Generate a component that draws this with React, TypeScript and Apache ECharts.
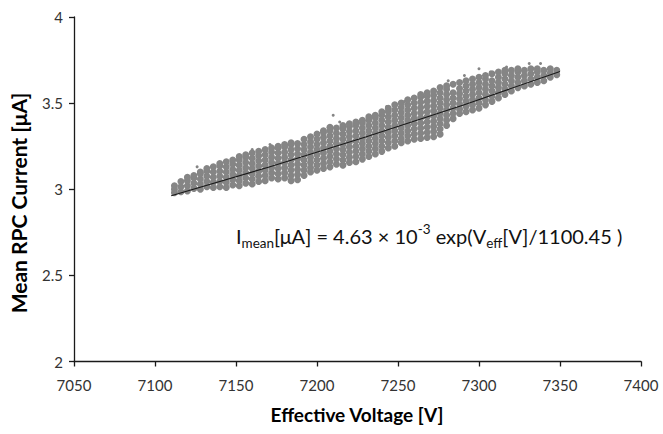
import React, { useEffect, useRef } from "react";
import * as echarts from "echarts";

// Effective voltage [V] of each column of measured points
const voltageColumns = [
  7112, 7116, 7120, 7124, 7128, 7132, 7136, 7140, 7144, 7148,
  7152, 7156, 7160, 7164, 7168, 7172, 7176, 7180, 7184, 7188,
  7192, 7196, 7200, 7204, 7208, 7212, 7216, 7220, 7224, 7228,
  7232, 7236, 7240, 7244, 7248, 7252, 7256, 7260, 7264, 7268,
  7272, 7276, 7280, 7284, 7288, 7292, 7296, 7300, 7304, 7308,
  7312, 7316, 7320, 7324, 7328, 7332, 7336, 7340, 7344, 7348,
];

// Mean RPC current [µA] of the measured points in each column
const currentColumns = [
  [2.98, 3.0, 3.02],
  [2.985, 3.015, 3.045],
  [2.99, 3.02, 3.05, 3.07],
  [3.005, 3.035, 3.065, 3.08],
  [3.0, 3.03, 3.06, 3.09, 3.1],
  [3.015, 3.045, 3.075, 3.105, 3.12],
  [3.01, 3.04, 3.07, 3.1, 3.13],
  [3.015, 3.045, 3.075, 3.105, 3.135, 3.15],
  [3.01, 3.04, 3.07, 3.1, 3.13, 3.16],
  [3.025, 3.055, 3.085, 3.115, 3.145, 3.17],
  [3.02, 3.05, 3.08, 3.11, 3.14, 3.17, 3.19],
  [3.035, 3.065, 3.095, 3.125, 3.155, 3.185, 3.2],
  [3.03, 3.06, 3.09, 3.12, 3.15, 3.18, 3.21],
  [3.045, 3.075, 3.105, 3.135, 3.165, 3.195, 3.22],
  [3.05, 3.08, 3.11, 3.14, 3.17, 3.2, 3.23],
  [3.065, 3.095, 3.125, 3.155, 3.185, 3.215, 3.24],
  [3.06, 3.09, 3.12, 3.15, 3.18, 3.21, 3.24, 3.25],
  [3.065, 3.095, 3.125, 3.155, 3.185, 3.215, 3.245, 3.26],
  [3.05, 3.08, 3.11, 3.14, 3.17, 3.2, 3.23, 3.26, 3.27],
  [3.055, 3.085, 3.115, 3.145, 3.175, 3.205, 3.235, 3.265],
  [3.08, 3.11, 3.14, 3.17, 3.2, 3.23, 3.26, 3.29],
  [3.1, 3.125, 3.155, 3.185, 3.215, 3.245, 3.275, 3.305],
  [3.11, 3.14, 3.17, 3.2, 3.23, 3.26, 3.29, 3.32],
  [3.12, 3.15, 3.18, 3.21, 3.24, 3.27, 3.3, 3.33, 3.34],
  [3.13, 3.16, 3.19, 3.22, 3.25, 3.28, 3.31, 3.34, 3.36],
  [3.145, 3.175, 3.205, 3.235, 3.265, 3.295, 3.325, 3.355],
  [3.14, 3.17, 3.2, 3.23, 3.26, 3.29, 3.32, 3.35, 3.37],
  [3.155, 3.185, 3.215, 3.245, 3.275, 3.305, 3.335, 3.365, 3.38],
  [3.16, 3.19, 3.22, 3.25, 3.28, 3.31, 3.34, 3.37, 3.39],
  [3.175, 3.205, 3.235, 3.265, 3.295, 3.325, 3.355, 3.385, 3.4],
  [3.19, 3.22, 3.25, 3.28, 3.31, 3.34, 3.37, 3.4, 3.42],
  [3.205, 3.235, 3.265, 3.295, 3.325, 3.355, 3.385, 3.415, 3.43],
  [3.22, 3.25, 3.28, 3.31, 3.34, 3.37, 3.4, 3.43, 3.45],
  [3.24, 3.27, 3.3, 3.33, 3.36, 3.39, 3.42, 3.45, 3.47],
  [3.25, 3.28, 3.31, 3.34, 3.37, 3.4, 3.43, 3.46, 3.49],
  [3.27, 3.295, 3.325, 3.355, 3.385, 3.415, 3.445, 3.475, 3.5],
  [3.28, 3.31, 3.34, 3.37, 3.4, 3.43, 3.46, 3.49, 3.52],
  [3.29, 3.32, 3.35, 3.38, 3.41, 3.44, 3.47, 3.5, 3.53],
  [3.295, 3.325, 3.355, 3.385, 3.415, 3.445, 3.475, 3.505, 3.535, 3.55],
  [3.3, 3.33, 3.36, 3.39, 3.42, 3.45, 3.48, 3.51, 3.54, 3.56],
  [3.305, 3.335, 3.365, 3.395, 3.425, 3.455, 3.485, 3.515, 3.545, 3.57],
  [3.32, 3.35, 3.38, 3.41, 3.44, 3.47, 3.5, 3.53, 3.56, 3.59],
  [3.37, 3.4, 3.43, 3.46, 3.49, 3.52, 3.55, 3.58, 3.6],
  [3.41, 3.44, 3.47, 3.5, 3.53, 3.56, 3.61],
  [3.44, 3.465, 3.495, 3.525, 3.555, 3.585, 3.62],
  [3.45, 3.48, 3.51, 3.54, 3.57, 3.6, 3.63],
  [3.46, 3.49, 3.52, 3.55, 3.58, 3.61, 3.64],
  [3.47, 3.5, 3.53, 3.56, 3.59, 3.62, 3.65],
  [3.49, 3.52, 3.55, 3.58, 3.61, 3.64, 3.66],
  [3.51, 3.54, 3.57, 3.6, 3.63, 3.67],
  [3.53, 3.56, 3.59, 3.62, 3.65, 3.68],
  [3.55, 3.58, 3.61, 3.64, 3.67, 3.69],
  [3.57, 3.6, 3.63, 3.66, 3.69],
  [3.59, 3.62, 3.65, 3.68, 3.7],
  [3.6, 3.63, 3.66, 3.69],
  [3.61, 3.64, 3.67, 3.7],
  [3.62, 3.65, 3.68, 3.7],
  [3.63, 3.66, 3.69],
  [3.65, 3.675, 3.7],
  [3.665, 3.69],
];

// Sparse points lying outside the main band
const outlierVoltage = [7126, 7160, 7171, 7210, 7214, 7243, 7254, 7281, 7291, 7300, 7307, 7317, 7331, 7338];
const outlierCurrent = [3.13, 3.23, 3.26, 3.43, 3.39, 3.48, 3.51, 3.63, 3.66, 3.7, 3.68, 3.71, 3.73, 3.73];

// Exponential fit curve
const fitVoltage = [7110, 7170, 7230, 7290, 7350];
const fitCurrent = [2.962, 3.128, 3.303, 3.488, 3.684];

const xAxisTitle = "Effective Voltage [V]";
const yAxisTitle = "Mean RPC Current [\u03bcA]";

const FONT = "Lato, 'Open Sans', sans-serif";

export default function App() {
  const ref = useRef<HTMLDivElement>(null);

  useEffect(() => {
    if (!ref.current) return;
    const chart = echarts.init(ref.current, undefined, { renderer: "svg" });

    const bandData: number[][] = [];
    voltageColumns.forEach((v, i) => {
      currentColumns[i].forEach((c) => bandData.push([v, c]));
    });
    const outlierData = outlierVoltage.map((v, i) => [v, outlierCurrent[i]]);
    const fitData = fitVoltage.map((v, i) => [v, fitCurrent[i]]);

    chart.setOption({
      animation: false,
      backgroundColor: "#ffffff",
      grid: { left: 74, right: 22, top: 17, bottom: 72.5, containLabel: false, outerBoundsMode: "none" },
      xAxis: {
        type: "value",
        min: 7050,
        max: 7400,
        interval: 50,
        splitLine: { show: false },
        axisLine: { show: true, onZero: false, lineStyle: { color: "#1a1a1a", width: 1.3 } },
        axisTick: { show: true, inside: false, length: 5, lineStyle: { color: "#1a1a1a", width: 1.3 } },
        axisLabel: {
          color: "#333",
          fontFamily: FONT,
          fontSize: 15,
          margin: 16,
          formatter: (v: number) => String(v),
        },
      },
      yAxis: {
        type: "value",
        min: 2,
        max: 4,
        interval: 0.5,
        splitLine: { show: false },
        axisLine: { show: true, onZero: false, lineStyle: { color: "#1a1a1a", width: 1.3 } },
        axisTick: { show: true, inside: false, length: 5, lineStyle: { color: "#1a1a1a", width: 1.3 } },
        axisLabel: { color: "#333", fontFamily: FONT, fontSize: 15, margin: 11 },
      },
      series: [
        {
          type: "scatter",
          data: bandData,
          symbol: "circle",
          symbolSize: 7,
          itemStyle: { color: "#858585", opacity: 1 },
          silent: true,
        },
        {
          type: "scatter",
          data: outlierData,
          symbol: "circle",
          symbolSize: 3,
          itemStyle: { color: "#858585", opacity: 1 },
          silent: true,
        },
        {
          type: "line",
          data: fitData,
          showSymbol: false,
          smooth: false,
          lineStyle: { color: "#1a1a1a", width: 1.1 },
          silent: true,
        },
      ],
      graphic: [
        {
          type: "text",
          x: 18,
          y: 203,
          rotation: Math.PI / 2,
          style: {
            text: yAxisTitle,
            font: `bold 21px ${FONT}`,
            fill: "#000",
            align: "center",
            verticalAlign: "middle",
          },
        },
        {
          type: "text",
          x: 357,
          y: 414,
          style: {
            text: xAxisTitle,
            font: `bold 19px ${FONT}`,
            fill: "#000",
            align: "center",
            verticalAlign: "middle",
          },
        },
        {
          type: "text",
          x: 236,
          y: 222,
          style: {
            text: "{n|I}{s|mean}{n|[\u03bcA] = 4.63 \u00d7 10}{p|-3}{n| exp(V}{s|eff}{n|[V]/1100.45 )}",
            align: "left",
            verticalAlign: "top",
            rich: {
              n: { fontFamily: FONT, fontSize: 20, lineHeight: 28, fill: "#111", color: "#111" },
              s: { fontFamily: FONT, fontSize: 13.5, lineHeight: 20, verticalAlign: "bottom", fill: "#111", color: "#111" },
              p: { fontFamily: FONT, fontSize: 13.5, lineHeight: 17, verticalAlign: "top", fill: "#111", color: "#111" },
            },
          },
        },
      ],
    });

    return () => chart.dispose();
  }, []);

  return (
    <div
      ref={ref}
      style={{ position: "fixed", left: 0, top: 0, width: 663, height: 434, background: "#fff" }}
    />
  );
}
